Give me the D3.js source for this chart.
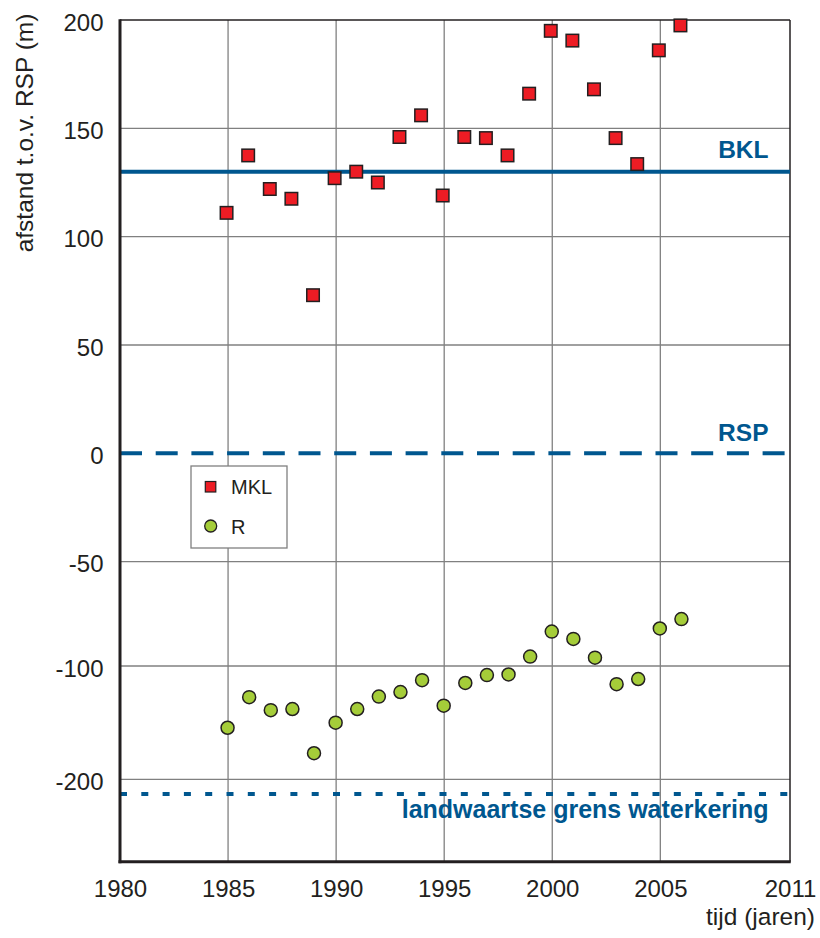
<!DOCTYPE html>
<html>
<head>
<meta charset="utf-8">
<script src="https://cdn.jsdelivr.net/npm/d3@7"></script>
<style>
  html, body { margin: 0; padding: 0; background: #fff; }
  svg { display: block; }
  text { font-family: "Liberation Sans", Arial, Helvetica, sans-serif; }
</style>
</head>
<body>
<div id="chart"></div>
<script>
// ---- data ----
const years = [1985, 1986, 1987, 1988, 1989, 1990, 1991, 1992, 1993, 1994, 1995,
               1996, 1997, 1998, 1999, 2000, 2001, 2002, 2003, 2004, 2005, 2006];
const mklValues = [111, 137.5, 122, 117.5, 73, 127, 130, 125, 146, 156, 119,
                   146, 145.5, 137.5, 166, 195, 190.5, 168, 145.5, 133.5, 186, 197.5];
const rValues = [-154.5, -127.5, -139, -138, -177, -150, -138, -127, -123, -112.5, -135,
                 -115, -108, -107.5, -95.5, -83.5, -87, -96, -116, -111.5, -82, -77.5];
const refValues = [130, 0, -213];
const refLabels = ["BKL", "RSP", "landwaartse grens waterkering"];
const xTicks = [1980, 1985, 1990, 1995, 2000, 2005, 2011];
const xGrid = [1985, 1990, 1995, 2000, 2005];
const yTicks = [200, 150, 100, 50, 0, -50, -100, -200];
const yGrid = [150, 100, 50, -50, -100, -200];
const yTitle = "afstand t.o.v. RSP (m)";
const xTitle = "tijd (jaren)";
const seriesNames = ["MKL", "R"];

// ---- layout ----
const W = 820, H = 938;
const pL = 120, pR = 790, pT = 20, pB = 861.7;
const blue = "#00578f", red = "#ed1c24", green = "#a5cd39", ink = "#231f20", gridC = "#808080";
const refDash = [null, "22,13.7", "7,14.3"];
const refLabelDy = [-13.5, -12, 24];
const refLabelSize = [24.5, 24.5, 25];

const x = d3.scaleLinear().domain([1980, 2011]).range([pL, pR]);
// the original axis is piecewise (labels -100 / -200 sit on unevenly spaced grid lines)
const y = d3.scaleLinear()
  .domain([200, -50, -100, -200, -272.5])
  .range([pT, 561.7, 666, 779.3, pB]);

const svg = d3.select("#chart").append("svg").attr("width", W).attr("height", H);

// grid
const g = svg.append("g");
g.selectAll("line.vg").data(xGrid).join("line").attr("class", "vg")
  .attr("x1", d => x(d)).attr("x2", d => x(d))
  .attr("y1", pT).attr("y2", pB)
  .attr("stroke", gridC).attr("stroke-width", 1.3);
g.selectAll("line.hg").data(yGrid).join("line").attr("class", "hg")
  .attr("x1", pL).attr("x2", pR)
  .attr("y1", d => y(d)).attr("y2", d => y(d))
  .attr("stroke", gridC).attr("stroke-width", 1.3);

// frame: thin top/right
svg.append("line").attr("x1", pL).attr("x2", pR).attr("y1", pT).attr("y2", pT)
  .attr("stroke", ink).attr("stroke-width", 1.5);
svg.append("line").attr("x1", pR).attr("x2", pR).attr("y1", pT).attr("y2", pB)
  .attr("stroke", ink).attr("stroke-width", 1.5);

// reference lines + labels
refValues.forEach((v, i) => {
  svg.append("line")
    .attr("x1", pL).attr("x2", pR)
    .attr("y1", y(v)).attr("y2", y(v))
    .attr("stroke", blue).attr("stroke-width", 4)
    .attr("stroke-dasharray", refDash[i]);
  svg.append("text").attr("x", 768.5).attr("y", y(v) + refLabelDy[i])
    .attr("text-anchor", "end").attr("font-weight", "bold").attr("font-size", refLabelSize[i])
    .attr("fill", blue).text(refLabels[i]);
});

// axes labels via d3 axes (plain hyphen minus as in the original)
const fmt = d => String(d);
const yAxis = svg.append("g").attr("transform", `translate(${pL},0)`)
  .call(d3.axisLeft(y).tickValues(yTicks).tickFormat(fmt).tickSize(0).tickPadding(16.5));
yAxis.select(".domain").remove();
yAxis.selectAll("text").attr("dy", "0.42em").attr("font-size", 24)
  .attr("fill", ink).style("font-family", '"Liberation Sans", Arial, sans-serif');

const xAxis = svg.append("g").attr("transform", `translate(0,${pB})`)
  .call(d3.axisBottom(x).tickValues(xTicks).tickFormat(fmt).tickSize(0).tickPadding(18));
xAxis.select(".domain").remove();
xAxis.selectAll("text").attr("font-size", 24)
  .attr("fill", ink).style("font-family", '"Liberation Sans", Arial, sans-serif');

// thick left / bottom axis lines
svg.append("line").attr("x1", pL).attr("x2", pL).attr("y1", pT - 0.75).attr("y2", pB + 1.5)
  .attr("stroke", ink).attr("stroke-width", 3);
svg.append("line").attr("x1", pL - 1.5).attr("x2", pR + 0.75).attr("y1", pB).attr("y2", pB)
  .attr("stroke", ink).attr("stroke-width", 3);

// titles
svg.append("text").attr("transform", "translate(33,133) rotate(-90)")
  .attr("text-anchor", "middle").attr("font-size", 24.5).attr("fill", ink).text(yTitle);
svg.append("text").attr("x", 815).attr("y", 925)
  .attr("text-anchor", "end").attr("font-size", 24.5).attr("fill", ink).text(xTitle);

// legend
const leg = svg.append("g");
leg.append("rect").attr("x", 191).attr("y", 466).attr("width", 96).attr("height", 82)
  .attr("fill", "#fff").attr("stroke", gridC).attr("stroke-width", 1.3);
leg.append("rect").attr("x", 205.3).attr("y", 481.5).attr("width", 10.5).attr("height", 10.5)
  .attr("fill", red).attr("stroke", ink).attr("stroke-width", 1.2);
leg.append("text").attr("x", 231).attr("y", 494).attr("font-size", 20).attr("fill", ink).text(seriesNames[0]);
leg.append("circle").attr("cx", 210.7).attr("cy", 526).attr("r", 6)
  .attr("fill", green).attr("stroke", ink).attr("stroke-width", 1.3);
leg.append("text").attr("x", 231).attr("y", 533.5).attr("font-size", 20).attr("fill", ink).text(seriesNames[1]);

// MKL squares
const sq = 12.5;
svg.append("g").selectAll("rect").data(years.map((yr, i) => ({ yr, v: mklValues[i] }))).join("rect")
  .attr("x", d => x(d.yr) - 1.5 - sq / 2).attr("y", d => y(d.v) - sq / 2)
  .attr("width", sq).attr("height", sq)
  .attr("fill", red).attr("stroke", ink).attr("stroke-width", 1.5);

// R circles
svg.append("g").selectAll("circle").data(years.map((yr, i) => ({ yr, v: rValues[i] }))).join("circle")
  .attr("cx", d => x(d.yr) - 0.5).attr("cy", d => y(d.v)).attr("r", 6.5)
  .attr("fill", green).attr("stroke", ink).attr("stroke-width", 1.5);
</script>
</body>
</html>
